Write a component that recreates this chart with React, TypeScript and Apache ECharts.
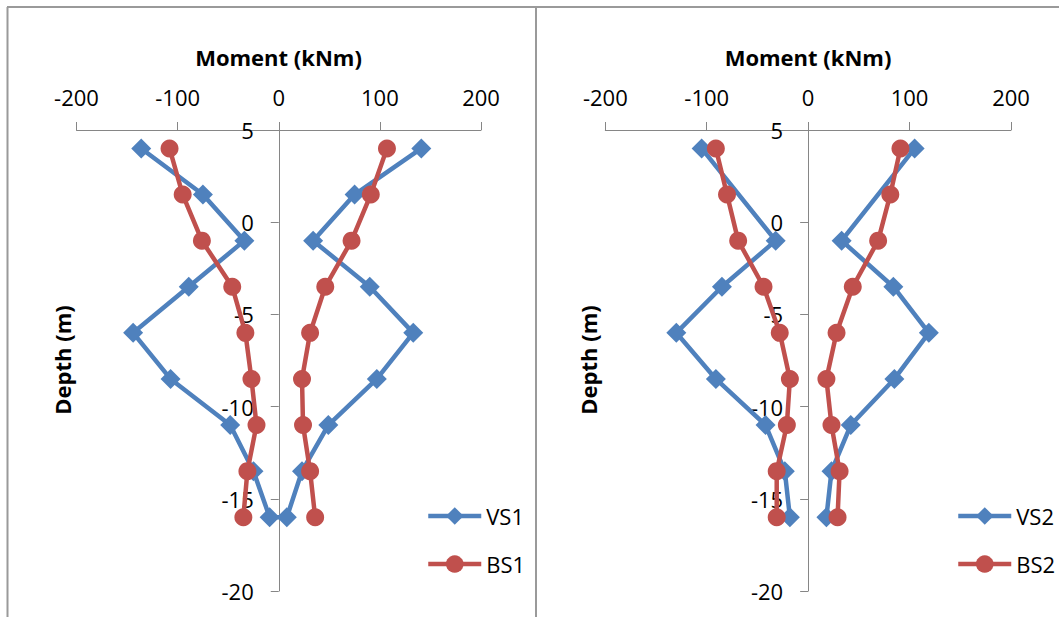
import React, { useEffect, useRef } from "react";
import * as echarts from "echarts";

// Depths (m) of the measuring points, top to bottom
const depths = [4, 1.5, -1, -3.5, -6, -8.5, -11, -13.5, -16];

// Panel 1 moments (kNm): negative and positive envelopes
const vs1Neg = [-136, -75, -34, -89, -144, -107, -48, -25, -9];
const vs1Pos = [141, 75, 34, 90, 133, 97, 49, 23, 8];
const bs1Neg = [-108, -95, -76, -46, -33, -27, -22, -31, -35];
const bs1Pos = [107, 91, 72, 46, 31, 23, 24, 31, 36];

// Panel 2 moments (kNm); VS2 has no reading at 1.5 m
const vs2Neg = [-105, null, -32, -85, -130, -91, -42, -23, -18];
const vs2Pos = [105, null, 33, 84, 119, 85, 42, 23, 18];
const bs2Neg = [-91, -80, -69, -44, -28, -18, -21, -31, -31];
const bs2Pos = [91, 81, 69, 44, 28, 18, 23, 31, 29];

const xTicks = { min: -200, max: 200, interval: 100 };
const yTicks = { min: -20, max: 5, interval: 5 };

const xTitle = "Moment (kNm)";
const yTitle = "Depth (m)";
const legend1 = ["VS1", "BS1"];
const legend2 = ["VS2", "BS2"];

const BLUE = "#4F81BD";
const RED = "#C0504D";
const AXIS = "#868686";
const FONT = "'Open Sans', 'Liberation Sans', sans-serif";

function pairs(vals: (number | null)[]) {
  const out: [number, number][] = [];
  vals.forEach((v, i) => {
    if (v !== null && v !== undefined) out.push([v, depths[i]]);
  });
  return out;
}

function lineSeries(name: string, data: [number, number][], idx: number, color: string, symbol: string, size: number) {
  return {
    name,
    type: "line",
    xAxisIndex: idx,
    yAxisIndex: idx,
    data,
    symbol,
    symbolSize: size,
    showSymbol: true,
    lineStyle: { color, width: 4.5 },
    itemStyle: { color },
    emphasis: { disabled: true },
  };
}

export default function App() {
  const ref = useRef<HTMLDivElement>(null);
  useEffect(() => {
    if (!ref.current) return;
    const chart = echarts.init(ref.current, undefined, { renderer: "svg" });
    const grids = [
      { left: 76.5, top: 130, width: 404.5, height: 461 },
      { left: 605.3, top: 130, width: 405.7, height: 461 },
    ];
    const xAxes = grids.map((_, i) => ({
      type: "value",
      gridIndex: i,
      position: "top",
      min: xTicks.min,
      max: xTicks.max,
      interval: xTicks.interval,
      axisLine: { show: true, onZero: false, lineStyle: { color: AXIS, width: 1 } },
      axisTick: { show: true, length: 8, lineStyle: { color: AXIS } },
      axisLabel: { fontSize: 22, color: "#000", fontFamily: FONT, margin: 22 },
      splitLine: { show: false },
    }));
    const yAxes = grids.map((g, i) => ({
      type: "value",
      gridIndex: i,
      position: "left",
      // place the vertical axis at moment = 0 (centre of the symmetric x range)
      offset: -g.width / 2,
      min: yTicks.min,
      max: yTicks.max,
      interval: yTicks.interval,
      axisLine: { show: true, onZero: false, lineStyle: { color: AXIS, width: 1 } },
      axisTick: { show: true, length: 8, lineStyle: { color: AXIS } },
      axisLabel: { fontSize: 22, color: "#000", fontFamily: FONT, margin: 25 },
      splitLine: { show: false },
    }));

    const vs1Data = [...pairs(vs1Neg), ...pairs(vs1Pos).reverse()];

    const series = [
      lineSeries("VS1", vs1Data, 0, BLUE, "diamond", 20),
      lineSeries("BS1", pairs(bs1Neg), 0, RED, "circle", 18),
      lineSeries("BS1", pairs(bs1Pos), 0, RED, "circle", 18),
      lineSeries("VS2", pairs(vs2Neg), 1, BLUE, "diamond", 20),
      lineSeries("VS2", pairs(vs2Pos), 1, BLUE, "diamond", 20),
      lineSeries("BS2", pairs(bs2Neg), 1, RED, "circle", 18),
      lineSeries("BS2", pairs(bs2Pos), 1, RED, "circle", 18),
    ];

    const legendBase = {
      orient: "vertical",
      top: 505,
      padding: 0,
      itemWidth: 53,
      itemHeight: 22,
      itemGap: 26,
      lineStyle: { width: 4.5 },
      textStyle: { fontSize: 22, color: "#000", fontFamily: FONT },
      selectedMode: false,
    };

    const titleText = (x: number, y: number, text: string, rotation = 0) => ({
      type: "text",
      x,
      y,
      rotation,
      style: {
        text,
        font: `bold 22px ${FONT}`,
        fill: "#000",
        align: "center",
        verticalAlign: "middle",
      },
      silent: true,
    });

    const frameLine = (x1: number, y1: number, x2: number, y2: number) => ({
      type: "line",
      shape: { x1, y1, x2, y2 },
      style: { stroke: "#9a9a9a", lineWidth: 2 },
      silent: true,
    });

    chart.setOption({
      animation: false,
      backgroundColor: "#fff",
      grid: grids,
      xAxis: xAxes,
      yAxis: yAxes,
      series,
      legend: [
        { ...legendBase, left: 426, data: legend1 },
        { ...legendBase, left: 956, data: legend2 },
      ],
      graphic: [
        frameLine(7, 7, 1059, 7),
        frameLine(7.5, 7, 7.5, 617),
        frameLine(536, 7, 536, 617),
        titleText(278.5, 57, xTitle),
        titleText(808, 57, xTitle),
        titleText(62, 360, yTitle, Math.PI / 2),
        titleText(588, 360, yTitle, Math.PI / 2),
      ],
    });
    return () => chart.dispose();
  }, []);
  return (
    <div
      ref={ref}
      style={{ position: "absolute", left: 0, top: 0, width: 1059, height: 617 }}
    />
  );
}
